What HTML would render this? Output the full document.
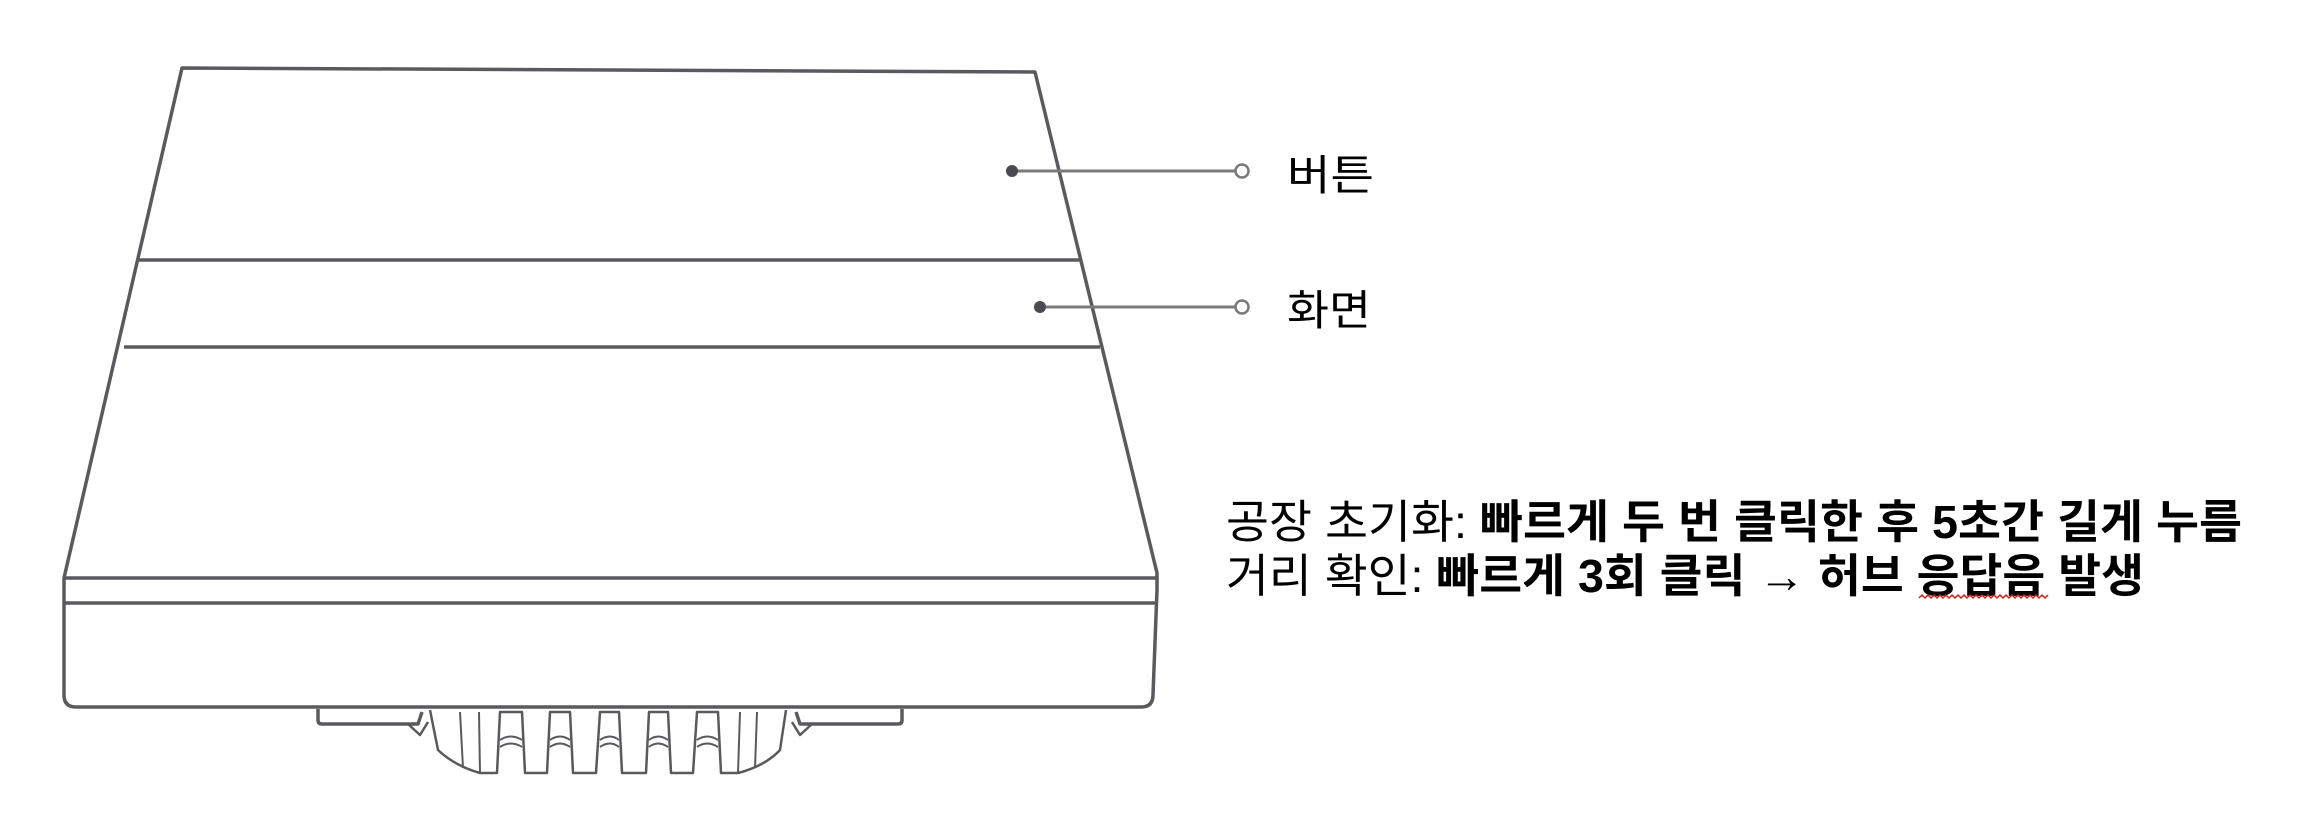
<!DOCTYPE html>
<html><head><meta charset="utf-8"><style>html,body{margin:0;padding:0;background:#fff;}svg{display:block}</style></head>
<body>
<svg width="2304" height="823" viewBox="0 0 2304 823" xmlns="http://www.w3.org/2000/svg">
<g fill="none" stroke="#5a5a5e" stroke-width="3.5" stroke-linejoin="round">
  <!-- top trapezoid -->
  <path d="M182 68 L1035 72 L1157 573 L1157 590 L1153 695 Q1153 707 1141 707 L76 707 Q64 707 64 695 L64 590 L64 578 Z"/>
  <line x1="138" y1="260" x2="1080" y2="260"/>
  <line x1="124" y1="347" x2="1100" y2="347"/>
  <line x1="64" y1="578" x2="1157" y2="578"/>
  <line x1="64" y1="603" x2="1156" y2="603"/>
  <!-- bottom plates -->
  <path d="M318 709 L318 720 Q318 724 322 724 L418 724 L422 712"/>
  <path d="M902 709 L902 720 Q902 724 898 724 L800 724 L796 712"/>
  <path d="M408 724 L420 735 L428 722" stroke-width="2.5"/>
  <path d="M812 724 L800 735 L792 722" stroke-width="2.5"/>
  <!-- central connector with fins -->
  <path stroke-width="2.5" d="M430 710 L438 750 Q455 766 480 773 L497 773 L500 712 L522 712 L525 773 L547 773 L550 712 L570 712 L573 773 L596 773 L600 712 L619 712 L622 773 L646 773 L649 712 L668 712 L671 773 L693 773 L697 712 L718 712 L721 773 L738 773 Q765 766 780 750 L786 710"/>
  <path stroke-width="2" d="M460 712 L463 768 M479 712 L480 773 M740 712 L738 773 M757 712 L755 768"/>
  <path stroke-width="2" d="M500 740 Q511 733 522 740 M500 747 Q511 740 522 747 M550 740 Q560 733 570 740 M550 747 Q560 740 570 747 M600 740 Q610 733 619 740 M600 747 Q610 740 619 747 M649 740 Q658 733 668 740 M649 747 Q658 740 668 747 M697 740 Q707 733 718 740 M697 747 Q707 740 718 747"/>
</g>
<!-- callouts -->
<g stroke="#7a7a7e" stroke-width="3">
  <line x1="1012" y1="171" x2="1236" y2="171"/>
  <line x1="1040" y1="307" x2="1236" y2="307"/>
</g>
<circle cx="1012" cy="171" r="6" fill="#4a4a50"/>
<circle cx="1040" cy="307" r="6" fill="#4a4a50"/>
<circle cx="1242" cy="171" r="6.5" fill="#fff" stroke="#7a7a7e" stroke-width="2.5"/>
<circle cx="1242" cy="307" r="6.5" fill="#fff" stroke="#7a7a7e" stroke-width="2.5"/>
<g font-family="'Liberation Sans','Noto Sans CJK KR','NanumGothic',sans-serif" fill="#000">
  <text x="1287" y="190" font-size="42" textLength="87" lengthAdjust="spacingAndGlyphs">버튼</text>
  <text x="1287" y="325" font-size="42" textLength="84" lengthAdjust="spacingAndGlyphs">화면</text>
  <text x="1226" y="538" font-size="46" textLength="1016" lengthAdjust="spacingAndGlyphs">공장 초기화: <tspan font-weight="bold">빠르게 두 번 클릭한 후 5초간 길게 누름</tspan></text>
  <text x="1226" y="592" font-size="46" textLength="918" lengthAdjust="spacingAndGlyphs">거리 확인: <tspan font-weight="bold">빠르게 3회 클릭 → 허브 응답음 발생</tspan></text>
</g>
<path d="M1919 598 l3 -3 l3 3 l3 -3 l3 3 l3 -3 l3 3 l3 -3 l3 3 l3 -3 l3 3 l3 -3 l3 3 l3 -3 l3 3 l3 -3 l3 3 l3 -3 l3 3 l3 -3 l3 3 l3 -3 l3 3 l3 -3 l3 3 l3 -3 l3 3 l3 -3 l3 3 l3 -3 l3 3 l3 -3 l3 3 l3 -3 l3 3 l3 -3 l3 3 l3 -3 l3 3 l3 -3 l3 3 l3 -3 l3 3 l3 -3" fill="none" stroke="#d02020" stroke-width="1.5"/>
</svg>
</body></html>
